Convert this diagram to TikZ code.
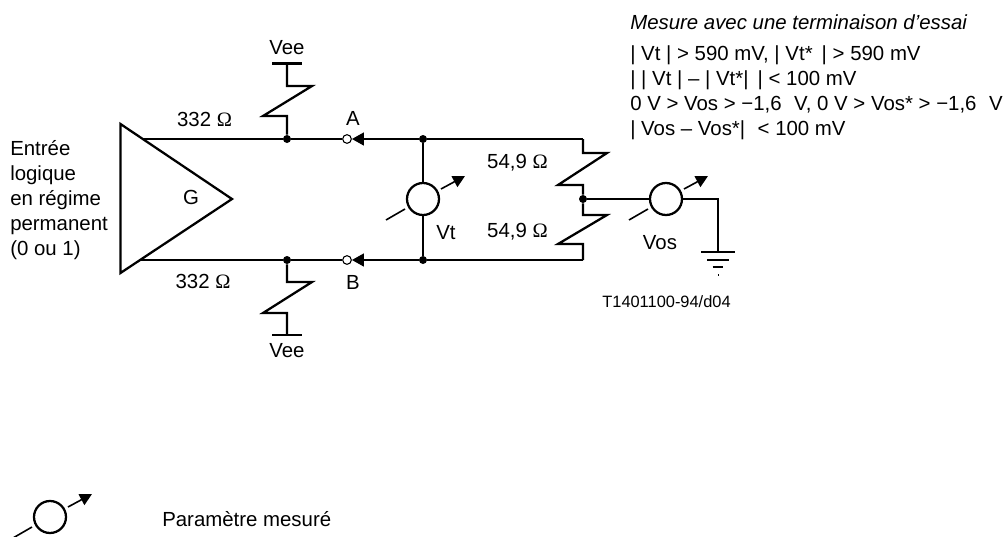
\documentclass[tikz,border=0pt]{standalone}
\usepackage{amsmath, amssymb}
\usepackage{fontspec}
\setmainfont{Liberation Sans}
\newfontfamily\ohmfont{Liberation Serif}
\newcommand{\ohm}{{\ohmfont Ω}}
\usetikzlibrary{arrows.meta}

\tikzset{
	wire/.style={line width=1.7pt, line join=miter},
	thinwire/.style={line width=1.2pt},
	meter/.style={circle, draw, line width=1.7pt, minimum size=24pt, inner sep=0pt},
	terminal/.style={circle, draw, line width=0.8pt, fill=white, minimum size=6.5pt, inner sep=0pt},
	dot/.style={circle, fill=black, minimum size=6pt, inner sep=0pt},
	label/.style={inner sep=0pt, font=\fontsize{15.3}{18.75}\selectfont},
}

\begin{document}
\begin{tikzpicture}[x=0.75pt, y=-0.75pt]
	\useasboundingbox (0,0) rectangle (1004,536);

	% Define the wires
	\def\yTop{139}
	\def\yBot{260}
	\def\xLoad{583}

	% Draw the generator
	\draw[wire] (120.5,124) coordinate (gTop) -- (232,199) coordinate (gTip) -- (120.5,273) coordinate (gBot) -- cycle;
	\node[label] (g) at (191,197) {G};
	\coordinate (gOutTop) at (143,\yTop);
	\coordinate (gOutBot) at (140,\yBot);

	% Junctions and terminals
	\node[dot] (jTop) at (287,\yTop) {};
	\node[dot] (jBot) at (287,\yBot) {};
	\node[terminal] (termA) at (347,\yTop) {};
	\node[terminal] (termB) at (347,\yBot) {};
	\node[dot] (jVtTop) at (423,\yTop) {};
	\node[dot] (jVtBot) at (423,\yBot) {};
	\node[dot] (jLoad) at (\xLoad,199) {};
	\coordinate (cTop) at (\xLoad,\yTop);
	\coordinate (cBot) at (\xLoad,\yBot);

	% Meters with their arrows
	\foreach \name/\xc/\yc in {vt/423/199, vos/666/199, legend/50/517}{
		\node[meter] (\name) at (\xc,\yc) {};
		\draw[thinwire, -{Triangle[length=9pt, width=9pt]}] (\xc+18,\yc-10) -- (\xc+42,\yc-23);
		\draw[thinwire] (\xc-18,\yc+10) -- (\xc-37,\yc+21);
	}

	% Horizontal lines
	\draw[wire] (gOutTop) -- (jTop) -- (termA);
	\draw[wire] (gOutBot) -- (jBot) -- (termB);
	\draw[wire, {Triangle[length=9pt, width=9.5pt]}-] (termA) -- (jVtTop);
	\draw[wire, {Triangle[length=9pt, width=9.5pt]}-] (termB) -- (jVtBot);
	\draw[wire] (jVtTop) -- (cTop);
	\draw[wire] (jVtBot) -- (cBot);

	% Vertical lines through the meter
	\draw[wire] (jVtTop) -- (vt);
	\draw[wire] (vt) -- (jVtBot);

	% Pull-down resistors
	\draw[wire] (jTop) -- ++(0,-23) -- ++(-24,0) -- ++(49,-30) -- ++(-25,0) -- ++(0,-22.5) coordinate (veeTop);
	\draw[wire] (jBot) -- ++(0,22) -- ++(25,0) -- ++(-49,31) -- ++(24,0) -- ++(0,22) coordinate (veeBot);
	\draw[wire] ([xshift=-11.25pt]veeTop) -- ([xshift=11.25pt]veeTop);
	\draw[wire] ([xshift=-11.25pt]veeBot) -- ([xshift=11.25pt]veeBot);

	% Load resistors
	\draw[wire] (cTop) -- ++(0,14) -- ++(24,0) -- ++(-49,32) -- ++(25,0) -- (jLoad);
	\draw[wire] (jLoad) -- ++(0,16) -- ++(24,0) -- ++(-49,29) -- ++(25,0) -- (cBot);

	% Vos branch and the ground
	\coordinate (gnd) at (718,252);
	\draw[wire] (jLoad) -- (vos);
	\draw[wire] (vos) -| (gnd);
	\draw[wire] ([xshift=-12.75pt]gnd) -- ([xshift=12.75pt]gnd);
	\draw[wire] ([xshift=-8pt,yshift=-6pt]gnd) -- ([xshift=8pt,yshift=-6pt]gnd);
	\draw[wire] ([xshift=-4pt,yshift=-11.5pt]gnd) -- ([xshift=4pt,yshift=-11.5pt]gnd);
	\draw[line width=0.5pt] ([yshift=-16.5pt]gnd) -- ([yshift=-18pt]gnd);

	% Annotations
	\node[label] (vee1) at (287,48) {Vee};
	\node[label] (vee2) at (287,351) {Vee};
	\node[label] (r1) at (204.5,119) {332 \ohm};
	\node[label] (r2) at (203,281) {332 \ohm};
	\node[label] (a) at (353,118) {A};
	\node[label] (b) at (353,282) {B};
	\node[label] (r3) at (517.5,163) {54,9 \ohm};
	\node[label] (r4) at (517.5,232) {54,9 \ohm};
	\node[label] (vtl) at (446,233) {Vt};
	\node[label] (vosl) at (660,243) {Vos};
	\node[label, font=\fontsize{12.3}{14}\selectfont] (ref) at (666.5,302) {T1401100-94/d04};
	\node[label, anchor=west, align=left] (input) at (10,200)
		{Entrée\\logique\\en régime\\permanent\\(0 ou 1)};
	\node[label, anchor=west] (title) at (630,22) {\itshape Mesure avec une terminaison d'essai};
	\node[label, anchor=west, align=left] (limits) at (630,92.5)
		{| Vt | > 590 mV, | Vt* \,| > 590 mV\\
		| | Vt | – | Vt*| \,| < 100 mV\\
		0 V > Vos > −1,6\,\, V, 0 V > Vos* > −1,6\,\, V\\
		| Vos – Vos*| \,\,< 100 mV};
	\node[label, anchor=west] (param) at (162,519) {Paramètre mesuré};
\end{tikzpicture}
\end{document}
